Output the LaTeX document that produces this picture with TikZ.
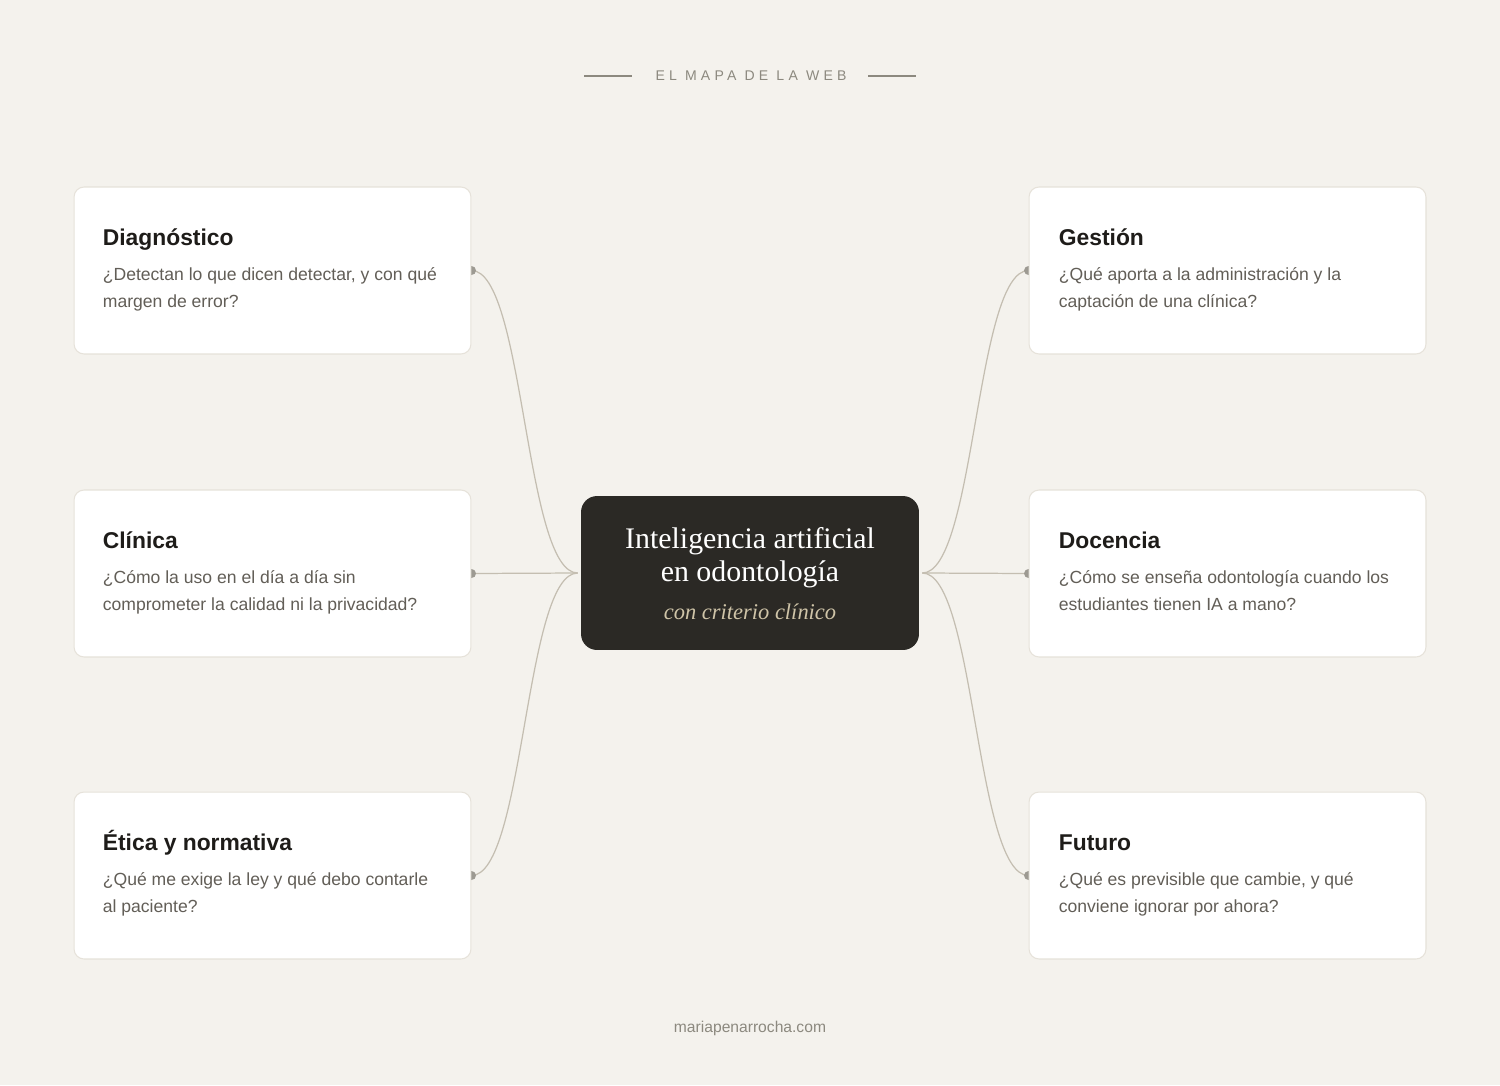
\documentclass[tikz,border=0pt]{standalone}
\usepackage{fontspec}
\setmainfont{Liberation Sans}
\newfontfamily\headfont[LetterSpace=30]{Liberation Sans}
\newfontfamily\bookfont{Liberation Serif}
\usetikzlibrary{positioning}
\definecolor{paper}{HTML}{F4F2ED}
\definecolor{cardline}{HTML}{E6E2DA}
\definecolor{wire}{HTML}{C4BEB1}
\definecolor{knot}{HTML}{9D9A92}
\definecolor{ink}{HTML}{1E1C19}
\definecolor{muted}{HTML}{625E57}
\definecolor{headgray}{HTML}{8C897F}
\definecolor{hub}{HTML}{2B2925}
\definecolor{sand}{HTML}{CFC4A8}
\pgfdeclarelayer{ground}
\pgfdeclarelayer{back}
\pgfsetlayers{ground,back,main}
\tikzset{
  card/.style={draw=cardline, fill=white, rounded corners=0.2cm, line width=0.6pt,
    minimum width=7.94cm, minimum height=3.34cm},
  ttl/.style={anchor=base west, inner sep=0, text=ink,
    font=\bfseries\fontsize{13pt}{15pt}\selectfont},
  txt/.style={anchor=north west, inner sep=0, align=left, text=muted,
    font=\fontsize{10pt}{15.3pt}\selectfont},
  link/.style={draw=wire, line width=0.7pt},
}

\begin{document}
\begin{tikzpicture}[x=0.02cm,y=-0.02cm]
\begin{pgfonlayer}{ground}
\fill[paper] (0,0) rectangle (1500,1085);
\end{pgfonlayer}
\useasboundingbox (0,0) rectangle (1500,1085);

% header and footer
\node[text=headgray, font=\headfont\fontsize{8pt}{10pt}\selectfont] (head) at (751,76) {EL MAPA DE LA WEB};
\draw[headgray, line width=0.6pt] (584,76) -- (632,76);
\draw[headgray, line width=0.6pt] (868,76) -- (916,76);
\node[text=headgray, font=\fontsize{8.9pt}{10pt}\selectfont] (web) at (750,1028) {mariapenarrocha.com};

% hub
\node[fill=hub, rounded corners=0.32cm, minimum width=6.76cm, minimum height=3.08cm] (ia) at (750,573) {};
\node[anchor=base, text=white, font=\bookfont\fontsize{17pt}{20pt}\selectfont] (ia1) at (750,548) {Inteligencia artificial};
\node[anchor=base, text=white, font=\bookfont\fontsize{17pt}{20pt}\selectfont] (ia2) at (750,581) {en odontología};
\node[anchor=base, text=sand, font=\bookfont\itshape\fontsize{12.8pt}{15pt}\selectfont] (ia3) at (750,619) {con criterio clínico};

% cards
\node[card] (diag) at (272.5,270.5) {};
\node[card] (clin) at (272.5,573.5) {};
\node[card] (etica) at (272.5,875.5) {};
\node[card] (gest) at (1227.5,270.5) {};
\node[card] (doc) at (1227.5,573.5) {};
\node[card] (fut) at (1227.5,875.5) {};

\node[ttl] (diagT) at ([shift={(29,59)}]diag.north west) {Diagnóstico};
\node[txt] (diagB) at ([shift={(29,81)}]diag.north west) {¿Detectan lo que dicen detectar, y con qué\\margen de error?};
\node[ttl] (clinT) at ([shift={(29,59)}]clin.north west) {Clínica};
\node[txt] (clinB) at ([shift={(29,81)}]clin.north west) {¿Cómo la uso en el día a día sin\\comprometer la calidad ni la privacidad?};
\node[ttl] (eticaT) at ([shift={(29,59)}]etica.north west) {Ética y normativa};
\node[txt] (eticaB) at ([shift={(29,81)}]etica.north west) {¿Qué me exige la ley y qué debo contarle\\al paciente?};
\node[ttl] (gestT) at ([shift={(30,59)}]gest.north west) {Gestión};
\node[txt] (gestB) at ([shift={(30,81)}]gest.north west) {¿Qué aporta a la administración y la\\captación de una clínica?};
\node[ttl] (docT) at ([shift={(30,59)}]doc.north west) {Docencia};
\node[txt] (docB) at ([shift={(30,81)}]doc.north west) {¿Cómo se enseña odontología cuando los\\estudiantes tienen IA a mano?};
\node[ttl] (futT) at ([shift={(30,59)}]fut.north west) {Futuro};
\node[txt] (futB) at ([shift={(30,81)}]fut.north west) {¿Qué es previsible que cambie, y qué\\conviene ignorar por ahora?};

% links behind the cards
\begin{pgfonlayer}{back}
\foreach \c in {diag,clin,etica} {
  \draw[link] ([xshift=-0.06cm]ia.west) .. controls +(-53,0) and +(53,0) .. (\c.east);
  \fill[knot] (\c.east) circle (0.09cm);
}
\foreach \c in {gest,doc,fut} {
  \draw[link] ([xshift=0.06cm]ia.east) .. controls +(53,0) and +(-53,0) .. (\c.west);
  \fill[knot] (\c.west) circle (0.09cm);
}
\end{pgfonlayer}
\end{tikzpicture}
\end{document}
